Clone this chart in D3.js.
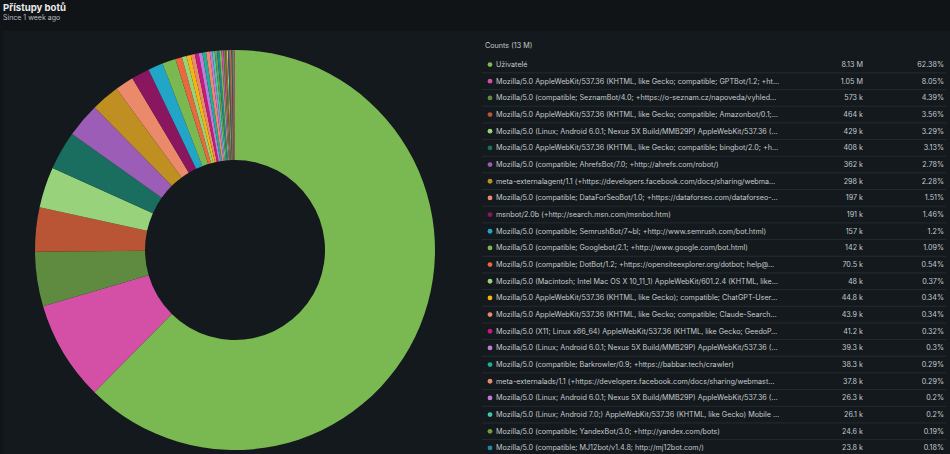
<!DOCTYPE html>
<html>
<head>
<meta charset="utf-8">
<script src="https://cdn.jsdelivr.net/npm/d3@7"></script>
<style>
  html, body { margin: 0; padding: 0; background: #111417; }
  body { width: 950px; height: 454px; overflow: hidden; font-family: Inter, "Noto Sans", sans-serif; }
  svg { display: block; }
</style>
</head>
<body>
<svg id="chart" width="950" height="454"></svg>
<script>
// ── Data ──
const labels = [
  "Uživatelé",
  "Mozilla/5.0 AppleWebKit/537.36 (KHTML, like Gecko; compatible; GPTBot/1.2; +ht…",
  "Mozilla/5.0 (compatible; SeznamBot/4.0; +https://o-seznam.cz/napoveda/vyhled…",
  "Mozilla/5.0 AppleWebKit/537.36 (KHTML, like Gecko; compatible; Amazonbot/0.1;…",
  "Mozilla/5.0 (Linux; Android 6.0.1; Nexus 5X Build/MMB29P) AppleWebKit/537.36 (…",
  "Mozilla/5.0 AppleWebKit/537.36 (KHTML, like Gecko; compatible; bingbot/2.0; +h…",
  "Mozilla/5.0 (compatible; AhrefsBot/7.0; +http://ahrefs.com/robot/)",
  "meta-externalagent/1.1 (+https://developers.facebook.com/docs/sharing/webma…",
  "Mozilla/5.0 (compatible; DataForSeoBot/1.0; +https://dataforseo.com/dataforseo-…",
  "msnbot/2.0b (+http://search.msn.com/msnbot.htm)",
  "Mozilla/5.0 (compatible; SemrushBot/7~bl; +http://www.semrush.com/bot.html)",
  "Mozilla/5.0 (compatible; Googlebot/2.1; +http://www.google.com/bot.html)",
  "Mozilla/5.0 (compatible; DotBot/1.2; +https://opensiteexplorer.org/dotbot; help@…",
  "Mozilla/5.0 (Macintosh; Intel Mac OS X 10_11_1) AppleWebKit/601.2.4 (KHTML, like…",
  "Mozilla/5.0 AppleWebKit/537.36 (KHTML, like Gecko); compatible; ChatGPT-User…",
  "Mozilla/5.0 AppleWebKit/537.36 (KHTML, like Gecko; compatible; Claude-Search…",
  "Mozilla/5.0 (X11; Linux x86_64) AppleWebKit/537.36 (KHTML, like Gecko; GeedoP…",
  "Mozilla/5.0 (Linux; Android 6.0.1; Nexus 5X Build/MMB29P) AppleWebKit/537.36 (…",
  "Mozilla/5.0 (compatible; Barkrowler/0.9; +https://babbar.tech/crawler)",
  "meta-externalads/1.1 (+https://developers.facebook.com/docs/sharing/webmast…",
  "Mozilla/5.0 (Linux; Android 6.0.1; Nexus 5X Build/MMB29P) AppleWebKit/537.36 (…",
  "Mozilla/5.0 (Linux; Android 7.0;) AppleWebKit/537.36 (KHTML, like Gecko) Mobile …",
  "Mozilla/5.0 (compatible; YandexBot/3.0; +http://yandex.com/bots)",
  "Mozilla/5.0 (compatible; MJ12bot/v1.4.8; http://mj12bot.com/)"
];
const counts = [
  8130000, 1050000, 573000, 464000, 429000, 408000, 362000, 298000, 197000, 191000,
  157000, 142000, 70500, 48000, 44800, 43900, 41200, 39300, 38300, 37800,
  26300, 26100, 24600, 23800
];
const percents = [
  "62.38%", "8.05%", "4.39%", "3.56%", "3.29%", "3.13%", "2.78%", "2.28%", "1.51%", "1.46%",
  "1.2%", "1.09%", "0.54%", "0.37%", "0.34%", "0.34%", "0.32%", "0.3%", "0.29%", "0.29%",
  "0.2%", "0.2%", "0.19%", "0.18%"
];
// smaller agents below the visible legend rows (estimated from the thin slices)
const tailCounts = [
  22100, 20400, 18900, 15200, 12800, 11500, 9700, 8400, 7600, 6900,
  5800, 5100, 4300, 3900, 3200, 2800, 2400, 1900
];
const colors = [
  "#7ab851", "#d44fa6", "#5e8b3f", "#b95535", "#98d27a", "#1a6e5f", "#9b5db5", "#bf8f22",
  "#ea8a6b", "#8b1660", "#22a6c8", "#7ab851", "#e9683d", "#98d27a", "#f2b60f", "#ea8a6b",
  "#c31a82", "#c27ad6", "#1ab09a", "#ea8a6b", "#c27ad6", "#40c8b0", "#6e9e3e", "#1a8aa8"
];
const title = "Přístupy botů";
const subtitle = "Since 1 week ago";
const legendTitle = "Counts (13 M)";

// ── Setup ──
const svg = d3.select("#chart");

svg.append("rect").attr("x", 0).attr("y", 0).attr("width", 950).attr("height", 454).attr("fill", "#111417");
svg.append("rect").attr("x", 3).attr("y", 31).attr("width", 947).attr("height", 423).attr("fill", "#13191c");

svg.append("text").attr("x", 3).attr("y", 10.5)
  .attr("fill", "#e8eaeb").attr("font-size", 9.6).attr("font-weight", 700)
  .text(title);
svg.append("text").attr("x", 3).attr("y", 19.5)
  .attr("fill", "#b9bec1").attr("font-size", 7)
  .text(subtitle);

// ── Donut ──
const allCounts = counts.concat(tailCounts);
const pie = d3.pie().sort(null).value(d => d);
const arc = d3.arc().innerRadius(90).outerRadius(200);
const colorScale = d3.scaleOrdinal().domain(d3.range(allCounts.length)).range(colors);

const donut = svg.append("g").attr("transform", "translate(235,250)");
donut.selectAll("path")
  .data(pie(allCounts))
  .join("path")
  .attr("d", arc)
  .attr("fill", (d, i) => colorScale(i));

// ── Legend ──
const fmt = v => d3.format(".3~s")(v).replace(/([kMG])$/, " $1");
const rowH = 16.67, rowTop = 56.2;
const xL = 482, xR = 946;
const fs = 7.2;

svg.append("text").attr("x", 485).attr("y", 48)
  .attr("fill", "#c5cacd").attr("font-size", fs)
  .text(legendTitle);

const rows = svg.append("g").selectAll("g")
  .data(labels.map((l, i) => ({ label: l, count: counts[i], pct: percents[i], i })))
  .join("g")
  .attr("transform", d => `translate(0,${rowTop + d.i * rowH})`);

rows.append("line")
  .attr("x1", xL).attr("x2", xR).attr("y1", rowH).attr("y2", rowH)
  .attr("stroke", "#252c30").attr("stroke-width", 1);

rows.append("circle")
  .attr("cx", 490).attr("cy", rowH / 2).attr("r", 2.4)
  .attr("fill", d => colors[d.i]);

rows.append("text")
  .attr("x", 496).attr("y", rowH / 2).attr("dy", "0.35em")
  .attr("fill", "#c5cacd").attr("font-size", fs)
  .text(d => d.label);

rows.append("text")
  .attr("x", 863).attr("y", rowH / 2).attr("dy", "0.35em")
  .attr("text-anchor", "end")
  .attr("fill", "#c5cacd").attr("font-size", fs)
  .text(d => fmt(d.count));

rows.append("text")
  .attr("x", 944).attr("y", rowH / 2).attr("dy", "0.35em")
  .attr("text-anchor", "end")
  .attr("fill", "#c5cacd").attr("font-size", fs)
  .text(d => d.pct);
</script>
</body>
</html>
